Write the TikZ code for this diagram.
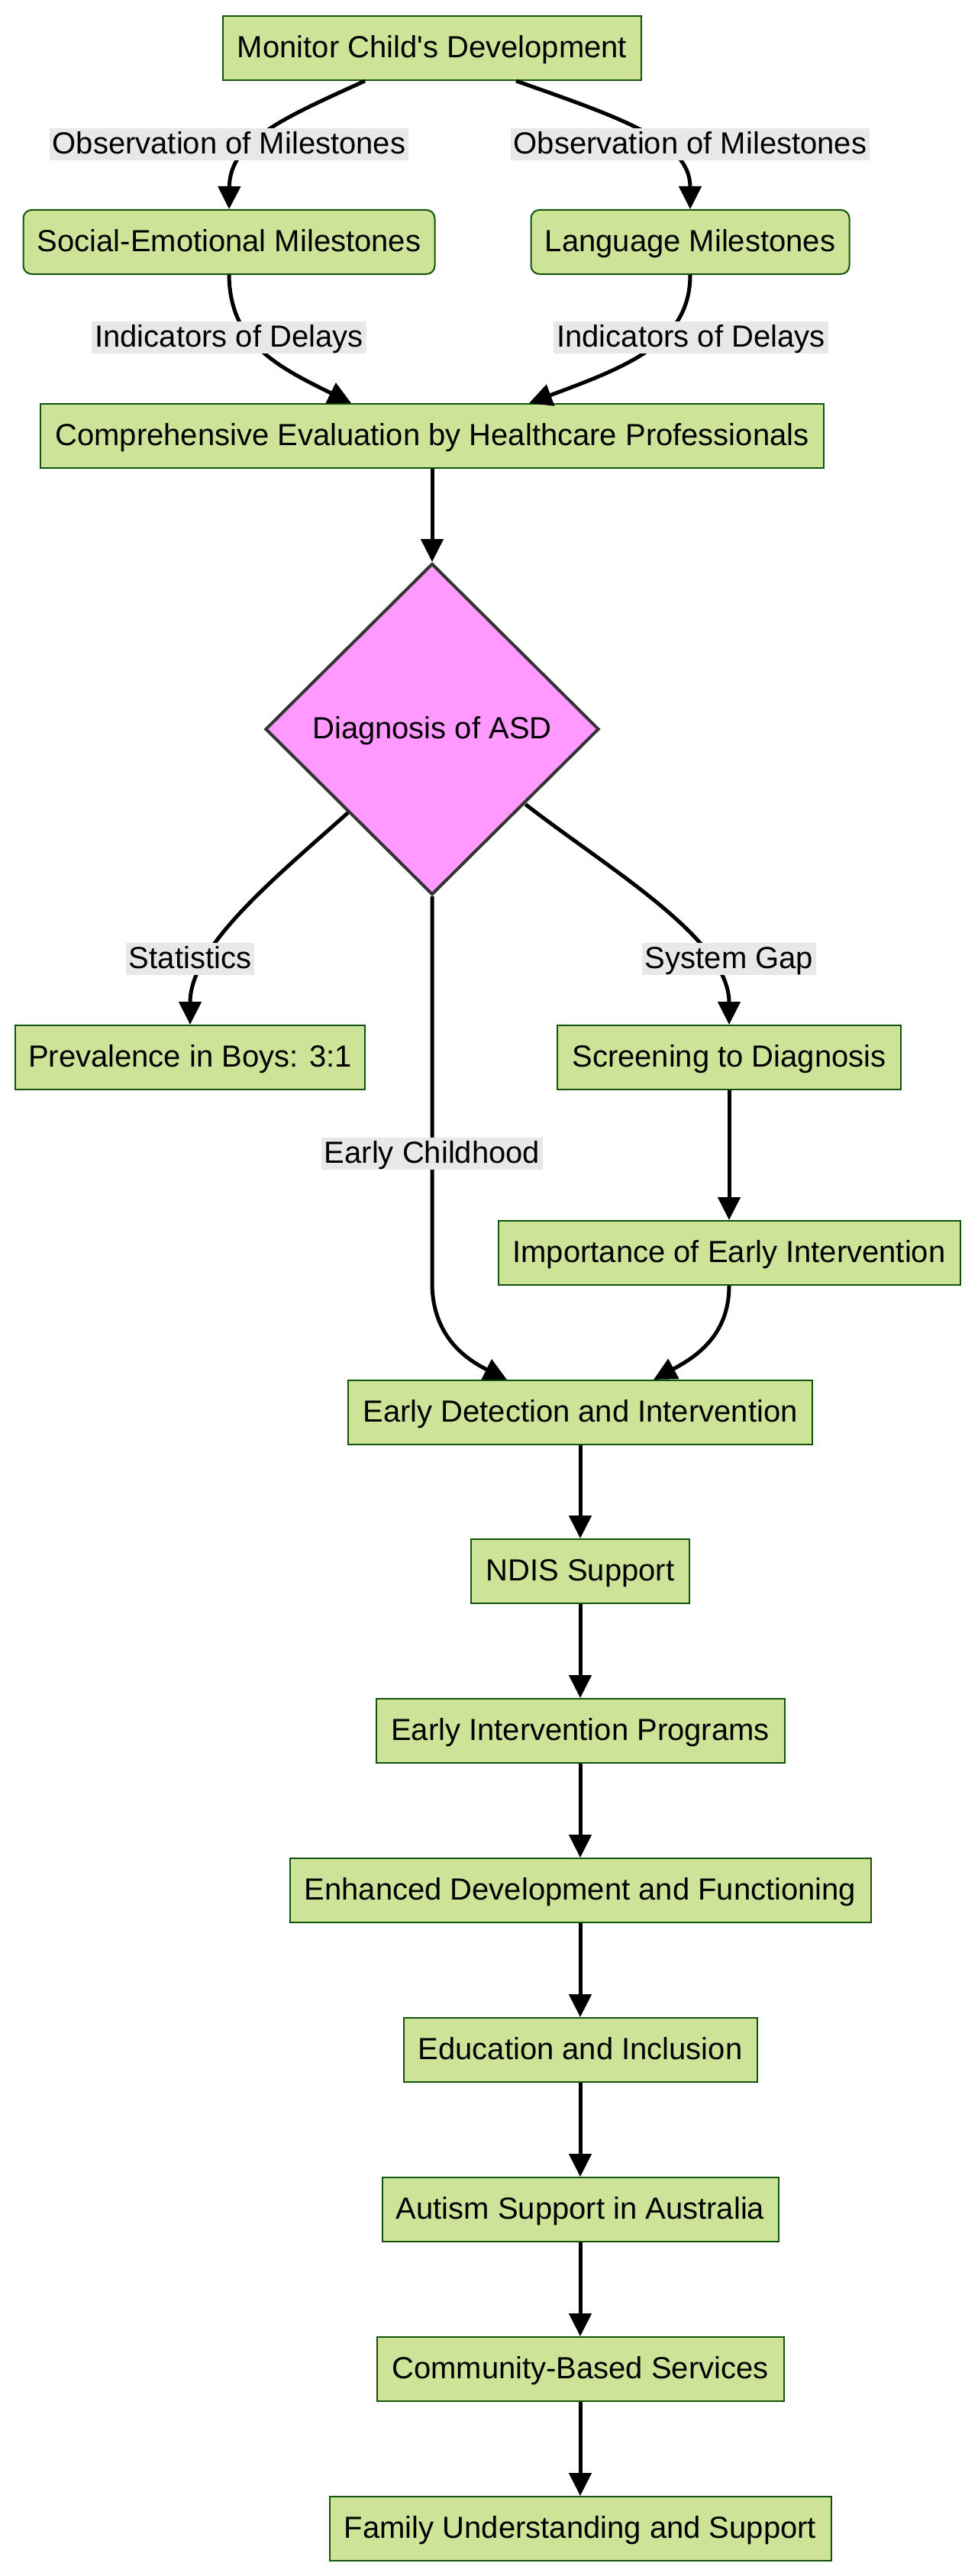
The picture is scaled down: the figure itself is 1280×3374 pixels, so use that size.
\documentclass[tikz,border=0pt]{standalone}
\usepackage{fontspec}
\setmainfont{Liberation Sans}
\usetikzlibrary{arrows.meta,shapes.geometric,calc}
\definecolor{nfill}{HTML}{CDE498}
\definecolor{nline}{HTML}{13540C}
\definecolor{lbg}{HTML}{E8E8E8}
\definecolor{dfill}{HTML}{FF99FF}
\definecolor{dline}{HTML}{333333}
\begin{document}
\begin{tikzpicture}[x=1pt,y=-1pt,
  box/.style={draw=nline, fill=nfill, line width=2pt, inner sep=0pt, minimum height=84pt,
    text height=25pt, text depth=0pt, font=\fontsize{40}{48}\selectfont},
  rbox/.style={box, rounded corners=11pt},
  lab/.style={fill=lbg, inner xsep=4pt, inner ysep=0pt, minimum height=42pt,
    text height=25pt, text depth=0pt, font=\fontsize{40}{48}\selectfont},
  edge/.style={line width=5pt, -{Triangle[length=30pt,width=29pt]}},
]
\useasboundingbox (0,0) rectangle (1280,3374);

\node[box, minimum width=548pt] (mon) at (566,63) {Monitor Child\textquotesingle s Development};
\node[rbox, minimum width=539pt] (soc) at (300,317) {Social-Emotional Milestones};
\node[rbox, minimum width=417pt] (lang) at (904,317) {Language Milestones};
\node[box, minimum width=1026pt] (comp) at (566,571) {Comprehensive Evaluation by Healthcare Professionals};
\node[diamond, draw=dline, fill=dfill, line width=4pt, minimum width=437pt, minimum height=434pt,
  inner sep=0pt, text height=25pt, text depth=0pt, font=\fontsize{40}{48}\selectfont] (dia) at (566,955) {Diagnosis of ASD};
\node[box, minimum width=458pt] (prev) at (249,1385) {Prevalence in Boys: 3:1};
\node[box, minimum width=450pt] (scr) at (955,1385) {Screening to Diagnosis};
\node[box, minimum width=605pt] (imp) at (955,1641) {Importance of Early Intervention};
\node[box, minimum width=608pt] (edi) at (760,1850) {Early Detection and Intervention};
\node[box, minimum width=286pt] (ndis) at (760,2058) {NDIS Support};
\node[box, minimum width=535pt] (eip) at (760,2267) {Early Intervention Programs};
\node[box, minimum width=761pt] (enh) at (760,2476) {Enhanced Development and Functioning};
\node[box, minimum width=463pt] (edu) at (760,2685) {Education and Inclusion};
\node[box, minimum width=519pt] (aus) at (760,2894) {Autism Support in Australia};
\node[box, minimum width=533pt] (com) at (760,3103) {Community-Based Services};
\node[box, minimum width=657pt] (fam) at (760,3312) {Family Understanding and Support};

\draw[edge] ([xshift=-88pt]mon.south) .. controls (370,155) and (301,185) .. (soc.north);
\draw[edge] ([xshift=110pt]mon.south) .. controls (815,155) and (904,185) .. (lang.north);
\draw[edge] (soc.south) .. controls (301,449) and (363,480) .. ([xshift=-106pt]comp.north);
\draw[edge] (lang.south) .. controls (904,449) and (822,480) .. ([xshift=127pt]comp.north);
\draw[edge] (comp.south) -- (dia.north);
\draw[edge] (dia.south west) .. controls (360,1150) and (249,1240) .. (prev.north);
\draw[edge] ($(dia.south east)+(12,-11)$) .. controls (800,1140) and (955,1230) .. (scr.north);
\draw[edge] (dia.south) -- (566,1680) .. controls (566,1750) and (610,1780) .. ([xshift=-96pt]edi.north);
\draw[edge] (scr.south) -- (imp.north);
\draw[edge] (imp.south) .. controls (955,1750) and (910,1778) .. ([xshift=96pt]edi.north);
\draw[edge] (edi.south) -- (ndis.north);
\draw[edge] (ndis.south) -- (eip.north);
\draw[edge] (eip.south) -- (enh.north);
\draw[edge] (enh.south) -- (edu.north);
\draw[edge] (edu.south) -- (aus.north);
\draw[edge] (aus.south) -- (com.north);
\draw[edge] (com.south) -- (fam.north);

\node[lab] (l1) at (300,189) {Observation of Milestones};
\node[lab] (l2) at (904,189) {Observation of Milestones};
\node[lab] (l3) at (300,442) {Indicators of Delays};
\node[lab] (l4) at (905,442) {Indicators of Delays};
\node[lab] (l5) at (249,1256) {Statistics};
\node[lab] (l6) at (955,1256) {System Gap};
\node[lab] (l7) at (566,1511) {Early Childhood};
\end{tikzpicture}
\end{document}
